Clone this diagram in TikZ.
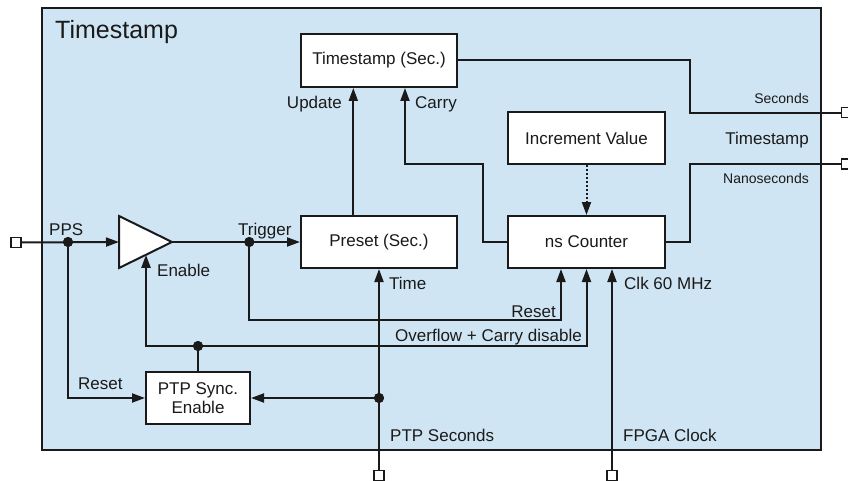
\documentclass[tikz,border=0pt]{standalone}
\usepackage{fontspec}
\setmainfont{Liberation Sans}
\usetikzlibrary{arrows.meta,calc}
\definecolor{panelblue}{HTML}{D0E5F3}
\definecolor{ink}{HTML}{1A1A1A}
\begin{document}
\begin{tikzpicture}[x=1pt,y=-1pt,
  wire/.style={line width=2pt,draw=ink},
  arr/.style={wire,-{Triangle[length=13pt,width=9pt]}},
  block/.style={draw=ink,line width=2pt,fill=white,inner sep=0pt,text=ink,
    font=\fontsize{17}{20}\selectfont,align=center},
  port/.style={draw=ink,line width=1.6pt,fill=white,minimum size=10pt,inner sep=0pt},
  jdot/.style={circle,fill=ink,minimum size=10pt,inner sep=0pt},
  lbl/.style={inner sep=0pt,text=ink,font=\fontsize{17}{20}\selectfont},
  slbl/.style={inner sep=0pt,text=ink,font=\fontsize{14}{16}\selectfont}]
\useasboundingbox (0,0) rectangle (848,481);
% panel
\node[draw=ink,line width=2pt,fill=panelblue,minimum width=779pt,minimum height=442pt,inner sep=0pt]
  (panel) at (431.5,229) {};
\node[lbl,anchor=base west,font=\fontsize{25}{28}\selectfont] (title) at (55,39) {Timestamp};
% blocks
\node[block,minimum width=156pt,minimum height=53pt] (tss) at (379,60.5) {Timestamp (Sec.)};
\node[block,minimum width=157pt,minimum height=52pt] (inc) at (586.5,138) {Increment Value};
\node[block,minimum width=156pt,minimum height=52pt] (pre) at (379,242) {Preset (Sec.)};
\node[block,minimum width=157pt,minimum height=52pt] (nsc) at (586.5,242) {ns Counter};
\node[block,minimum width=104pt,minimum height=52pt,font=\fontsize{17}{19}\selectfont] (ptp) at (198,398) {PTP Sync.\\Enable};
% buffer
\coordinate (bufT) at (119,216);
\coordinate (bufB) at (119,268);
\coordinate (bufA) at (172,242);
\coordinate (bufL) at (119,242);
\coordinate (bufEn) at (146,254.8);
\draw[line width=2pt,draw=ink,fill=white,line join=miter] (bufT) -- (bufA) -- (bufB) -- cycle;
% ports
\node[port] (pps) at (16,242.5) {};
\node[port] (ptps) at (379,475.5) {};
\node[port] (fpga) at (612,475.5) {};
\node[port] (secs) at (846.5,112.7) {};
\node[port] (nsec) at (846.5,164.3) {};
% helper coordinates
\coordinate (resety) at (0,320);
\coordinate (updx) at (353.3,0);
\coordinate (carryx) at (405,0);
\coordinate (cbend) at (483.3,164);
\coordinate (outx) at (690,0);
\coordinate (nsR) at ($(nsc.south)+(-25.5,0)$);
\coordinate (nsC) at ($(nsc.south)+(25.5,0)$);
% junction dots
\node[jdot] (ppsdot) at (68,242) {};
\node[jdot] (trigdot) at (249.3,242) {};
\node[jdot] (endot) at (198,346) {};
\node[jdot] (ptpdot) at (379,398) {};
% connectors
\draw[arr] (pps.east) -- (bufL);
\draw[arr] (bufA) -- (pre.west);
\draw[arr] (ppsdot.center) |- (ptp.west);
\draw[wire] (ptp.north) -- (endot.center);
\draw[arr] (endot.center) -| (bufEn);
\draw[arr] (endot.center) -| (nsc.south);
\draw[arr] (trigdot.center) -- (trigdot |- resety) -| (nsR);
\draw[arr] (ptps.north) -- (pre.south);
\draw[arr] (ptpdot.center) -- (ptp.east);
\draw[arr] (fpga.north) -- (nsC);
\draw[arr] (pre.north -| updx) -- (tss.south -| updx);
\draw[arr] (nsc.west) -| (cbend) -| (tss.south -| carryx);
\draw[line width=2pt,draw=ink,dash pattern=on 2pt off 2pt,-{Triangle[length=13pt,width=9pt]}] (inc.south) -- (nsc.north);
\draw[wire] (tss.east) -| (outx |- secs.west) -- (secs.west);
\draw[wire] (nsc.east) -| (outx |- nsec.west) -- (nsec.west);
% redraw dots on top
\node[jdot] at (ppsdot) {};
\node[jdot] at (trigdot) {};
\node[jdot] at (endot) {};
\node[jdot] at (ptpdot) {};
% labels
\node[lbl,anchor=base west] (lpps) at (49,235) {PPS};
\node[lbl,anchor=base west] (ltrig) at (238,235) {Trigger};
\node[lbl,anchor=base east] (lupd) at (342,109) {Update};
\node[lbl,anchor=base west] (lcar) at (415,109) {Carry};
\node[lbl,anchor=base west] (len) at (157,276) {Enable};
\node[lbl,anchor=base west] (lres1) at (78,389) {Reset};
\node[lbl,anchor=base west] (ltime) at (389,289) {Time};
\node[lbl,anchor=base east] (lres2) at (556,317) {Reset};
\node[lbl,anchor=base west] (lovf) at (395,341) {Overflow + Carry disable};
\node[lbl,anchor=base west] (lclk) at (624,289) {Clk 60 MHz};
\node[lbl,anchor=base west] (lptps) at (390,441) {PTP Seconds};
\node[lbl,anchor=base west] (lfpga) at (623,441) {FPGA Clock};
\node[slbl,anchor=base east] (lsec) at (809,104) {Seconds};
\node[lbl,anchor=base east] (lts) at (809,144.5) {Timestamp};
\node[slbl,anchor=base east] (lnsec) at (809,183.3) {Nanoseconds};
\end{tikzpicture}
\end{document}
